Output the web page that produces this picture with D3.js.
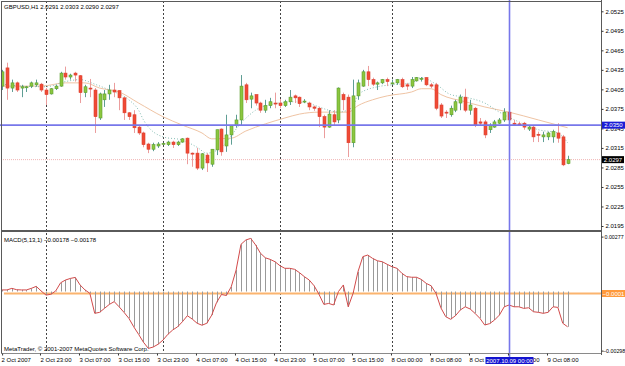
<!DOCTYPE html>
<html>
<head>
<meta charset="utf-8">
<script src="https://cdn.jsdelivr.net/npm/d3@7"></script>
<style>
body { margin: 0; background: #fff; }
svg { display: block; font-family: "Liberation Sans", Arial, sans-serif; font-size: 6px; }
</style>
</head>
<body>
<svg id="chart" width="625" height="366"></svg>
<script>
'use strict';

// GBPUSD H1 candles, 2 Oct 2007 14:00 .. 9 Oct 2007
var opens = [2.0410,2.0438,2.0407,2.0415,2.0407,2.0409,2.0410,2.0412,2.0413,2.0404,
	2.0398,2.0406,2.0410,2.0430,2.0424,2.0430,2.0426,2.0400,2.0407,2.0404,
	2.0361,2.0389,2.0398,2.0404,2.0403,2.0392,2.0369,2.0366,2.0347,2.0338,
	2.0321,2.0313,2.0318,2.0321,2.0320,2.0324,2.0320,2.0324,2.0330,2.0307,
	2.0307,2.0284,2.0304,2.0290,2.0312,2.0344,2.0318,2.0335,2.0350,2.0358,
	2.0412,2.0390,2.0397,2.0384,2.0373,2.0380,2.0384,2.0384,2.0380,2.0386,
	2.0395,2.0393,2.0387,2.0384,2.0378,2.0376,2.0363,2.0347,2.0366,2.0358,
	2.0397,2.0393,2.0323,2.0395,2.0410,2.0432,2.0420,2.0413,2.0415,2.0420,
	2.0414,2.0415,2.0420,2.0412,2.0410,2.0418,2.0421,2.0423,2.0412,2.0412,
	2.0381,2.0370,2.0366,2.0373,2.0384,2.0393,2.0373,2.0376,2.0355,2.0355,
	2.0343,2.0347,2.0353,2.0358,2.0370,2.0353,2.0352,2.0353,2.0344,2.0347,
	2.0336,2.0332,2.0332,2.0332,2.0338,2.0332,2.0291];
var highs = [2.0435,2.0446,2.0420,2.0417,2.0412,2.0410,2.0417,2.0420,2.0415,2.0407,
	2.0407,2.0412,2.0432,2.0440,2.0429,2.0432,2.0427,2.0412,2.0421,2.0407,
	2.0400,2.0404,2.0412,2.0415,2.0404,2.0393,2.0370,2.0373,2.0350,2.0340,
	2.0323,2.0323,2.0324,2.0323,2.0326,2.0326,2.0326,2.0330,2.0331,2.0308,
	2.0315,2.0307,2.0307,2.0313,2.0343,2.0345,2.0366,2.0350,2.0366,2.0427,
	2.0415,2.0400,2.0397,2.0386,2.0389,2.0392,2.0400,2.0390,2.0389,2.0404,
	2.0397,2.0394,2.0390,2.0386,2.0380,2.0378,2.0366,2.0373,2.0373,2.0408,
	2.0400,2.0397,2.0420,2.0420,2.0435,2.0441,2.0423,2.0417,2.0421,2.0423,
	2.0420,2.0421,2.0423,2.0415,2.0424,2.0424,2.0424,2.0424,2.0415,2.0415,
	2.0384,2.0373,2.0380,2.0389,2.0397,2.0406,2.0389,2.0378,2.0361,2.0358,
	2.0353,2.0358,2.0361,2.0376,2.0373,2.0358,2.0355,2.0355,2.0350,2.0350,
	2.0340,2.0340,2.0340,2.0343,2.0353,2.0335,2.0303];
var lows = [2.0404,2.0389,2.0401,2.0401,2.0393,2.0401,2.0407,2.0409,2.0401,2.0381,
	2.0397,2.0404,2.0409,2.0420,2.0420,2.0417,2.0384,2.0393,2.0393,2.0338,
	2.0358,2.0378,2.0389,2.0393,2.0373,2.0358,2.0358,2.0338,2.0335,2.0316,
	2.0307,2.0310,2.0315,2.0320,2.0318,2.0315,2.0318,2.0323,2.0290,2.0286,
	2.0281,2.0281,2.0278,2.0286,2.0304,2.0303,2.0309,2.0320,2.0346,2.0350,
	2.0384,2.0376,2.0380,2.0369,2.0369,2.0376,2.0376,2.0376,2.0378,2.0381,
	2.0384,2.0378,2.0384,2.0373,2.0372,2.0347,2.0330,2.0346,2.0350,2.0353,
	2.0373,2.0301,2.0316,2.0389,2.0409,2.0410,2.0410,2.0404,2.0413,2.0410,
	2.0412,2.0412,2.0407,2.0404,2.0407,2.0417,2.0417,2.0410,2.0407,2.0373,
	2.0361,2.0361,2.0363,2.0370,2.0373,2.0370,2.0366,2.0347,2.0349,2.0330,
	2.0338,2.0346,2.0352,2.0355,2.0349,2.0349,2.0349,2.0343,2.0341,2.0324,
	2.0324,2.0324,2.0327,2.0323,2.0323,2.0287,2.0290];
var closes = [2.0432,2.0407,2.0415,2.0404,2.0409,2.0409,2.0415,2.0415,2.0404,2.0397,
	2.0406,2.0410,2.0430,2.0424,2.0427,2.0427,2.0400,2.0409,2.0406,2.0363,
	2.0398,2.0398,2.0404,2.0401,2.0392,2.0369,2.0363,2.0346,2.0338,2.0320,
	2.0313,2.0320,2.0321,2.0322,2.0324,2.0320,2.0324,2.0329,2.0307,2.0306,
	2.0284,2.0306,2.0292,2.0313,2.0343,2.0309,2.0335,2.0349,2.0358,2.0410,
	2.0389,2.0395,2.0384,2.0373,2.0380,2.0386,2.0383,2.0380,2.0386,2.0393,
	2.0392,2.0383,2.0387,2.0378,2.0376,2.0363,2.0347,2.0367,2.0355,2.0407,
	2.0389,2.0323,2.0395,2.0415,2.0432,2.0420,2.0413,2.0415,2.0420,2.0417,
	2.0415,2.0420,2.0409,2.0410,2.0420,2.0423,2.0422,2.0412,2.0410,2.0376,
	2.0364,2.0369,2.0376,2.0386,2.0393,2.0373,2.0381,2.0350,2.0353,2.0335,
	2.0350,2.0355,2.0358,2.0370,2.0358,2.0352,2.0350,2.0347,2.0347,2.0332,
	2.0335,2.0335,2.0338,2.0340,2.0330,2.0289,2.0297];

// moving averages: [bar index, price]
var fastMa = [[0,2.0413],[4,2.0410],[9,2.0409],[13,2.0417],[16,2.0420],[19,2.0413],
	[22,2.0404],[26,2.0389],[28,2.0373],[29,2.0358],[33,2.0332],[37,2.0327],[40,2.0316],
	[42,2.0307],[45,2.0316],[49,2.0353],[52,2.0373],[56,2.0383],[60,2.0386],[63,2.0383],
	[67,2.0373],[69,2.0370],[72,2.0378],[73,2.0397],[77,2.0409],[80,2.0412],[84,2.0415],
	[86,2.0423],[89,2.0413],[92,2.0397],[95,2.0393],[99,2.0384],[102,2.0370],[106,2.0355],
	[110,2.0343],[114,2.0338],[116,2.0323]];
var slowMa = [[0,2.0410],[8,2.0410],[13,2.0415],[17,2.0415],[20,2.0407],[24,2.0401],
	[28,2.0384],[33,2.0363],[37,2.0350],[41,2.0338],[43,2.0329],[47,2.0330],[50,2.0341],
	[54,2.0352],[58,2.0361],[61,2.0367],[65,2.0370],[71,2.0370],[73,2.0380],[76,2.0389],
	[79,2.0395],[84,2.0401],[86,2.0406],[88,2.0406],[90,2.0397],[95,2.0386],[99,2.0378],
	[104,2.0370],[110,2.0358],[114,2.0350],[116,2.0346]];

// MACD(5,13,1) main = signal
var macdValues = [0.00008,0.00008,0.00016,0.00009,0.00008,0.00008,0.00016,0.00026,0.00003,-0.00018,
	-0.00014,0.00003,0.00044,0.00058,0.00066,0.00071,0.00033,0.00008,-0.00009,-0.0011,
	-0.00105,-0.00085,-0.00065,-0.00051,-0.00077,-0.00105,-0.00135,-0.00178,-0.00216,-0.00256,
	-0.00287,-0.0028,-0.00266,-0.00245,-0.00216,-0.00194,-0.00178,-0.00152,-0.00122,-0.00139,
	-0.0016,-0.0017,-0.0016,-0.00119,-0.00055,-0.00015,-0.0002,0.00024,0.00108,0.00238,
	0.0026,0.00268,0.00235,0.00193,0.0017,0.00162,0.0015,0.0013,0.00117,0.00117,
	0.00112,0.00095,0.00075,0.00058,0.00029,-0.00014,-0.00065,-0.0006,-0.00068,0,
	0.00033,-0.00077,-0.00009,0.001,0.00176,0.00184,0.00167,0.00155,0.0015,0.00137,
	0.00125,0.00117,0.00092,0.00075,0.00072,0.00072,0.00061,0.00041,0.00029,-0.00009,
	-0.00082,-0.00127,-0.0014,-0.00122,-0.00093,-0.00077,-0.00088,-0.0011,-0.00135,-0.00169,
	-0.00162,-0.00144,-0.00119,-0.00077,-0.00068,-0.00077,-0.00077,-0.00085,-0.00082,-0.00102,
	-0.00105,-0.0011,-0.00105,-0.00077,-0.0008,-0.0016,-0.00178];

var priceTicks = [2.0525,2.0495,2.0465,2.0435,2.0405,2.0375,2.0345,2.0315,2.0285,2.0255,2.0225,2.0195];
var macdTicks = [0.00277,-0.00298];
var timeLabelBars = [0,9,17,25,33,41,49,57,65,73,81,89,97,105,113];
var timeLabels = ['2 Oct 2007','2 Oct 23:00','3 Oct 07:00','3 Oct 15:00','3 Oct 23:00',
	'4 Oct 07:00','4 Oct 15:00','4 Oct 23:00','5 Oct 07:00','5 Oct 15:00','8 Oct 00:00',
	'8 Oct 08:00','8 Oct 16:00','9 Oct 00:00','9 Oct 08:00'];
var gridBars = [9,33,57,80,104];

var lastPrice = 2.0297;
var crossPrice = 2.0350;
var crossBar = 104;
var crossTime = '2007.10.09 00:00';
var macdLevel = -0.0001;

/**
 * Draw everything
 */
function drawChart() {
	var svg = d3.select('#chart');
	var right = 601, mainTop = 1, mainBottom = 230, macdTop = 232, bottom = 353;

	var x = d3.scaleLinear().domain([0, opens.length - 1]).range([2.1, 2.1 + (opens.length - 1) * 4.875]);
	var y = d3.scaleLinear().domain([2.0195, 2.0525]).range([226, 11.3]);
	var ym = d3.scaleLinear().domain([-0.00298, 0.00277]).range([350.6, 236.6]);

	svg.append('rect').attr('width', 625).attr('height', 366).attr('fill', '#fff');

	var defs = svg.append('defs');
	defs.append('clipPath').attr('id', 'clipMain').append('rect')
		.attr('x', 1).attr('y', mainTop).attr('width', right - 1).attr('height', mainBottom - mainTop);
	defs.append('clipPath').attr('id', 'clipMacd').append('rect')
		.attr('x', 1).attr('y', macdTop).attr('width', right - 1).attr('height', bottom - macdTop);

	// vertical grid
	svg.append('g').selectAll('line').data(gridBars).enter().append('line')
		.attr('x1', function (d) { return Math.round(x(d)) + 0.5; })
		.attr('x2', function (d) { return Math.round(x(d)) + 0.5; })
		.attr('y1', mainTop).attr('y2', bottom)
		.attr('stroke', '#444').attr('stroke-dasharray', '2,2');

	var main = svg.append('g').attr('clip-path', 'url(#clipMain)');

	// last price line
	main.append('line')
		.attr('x1', 1).attr('x2', right).attr('y1', y(lastPrice)).attr('y2', y(lastPrice))
		.attr('stroke', '#f0b4b4').attr('stroke-dasharray', '1,1');

	var maLine = d3.line()
		.x(function (d) { return x(d[0]); })
		.y(function (d) { return y(d[1]); })
		.curve(d3.curveMonotoneX);
	main.append('path').attr('d', maLine(slowMa))
		.attr('fill', 'none').attr('stroke', '#efc4a4').attr('stroke-width', 1);
	main.append('path').attr('d', maLine(fastMa))
		.attr('fill', 'none').attr('stroke', '#86bdb3').attr('stroke-width', 1)
		.attr('stroke-dasharray', '1,2');

	var bars = d3.range(opens.length).map(function (i) {
		return { i: i, o: opens[i], h: highs[i], l: lows[i], c: closes[i], up: closes[i] >= opens[i] };
	});

	// wicks
	main.append('g').selectAll('line').data(bars).enter().append('line')
		.attr('x1', function (d) { return Math.round(x(d.i)) + 0.5; })
		.attr('x2', function (d) { return Math.round(x(d.i)) + 0.5; })
		.attr('y1', function (d) { return y(d.h); })
		.attr('y2', function (d) { return y(d.l); })
		.attr('stroke', function (d) { return d.up ? '#5f9e94' : '#eb9d9d'; });

	// bodies
	main.append('g').selectAll('rect').data(bars).enter().append('rect')
		.attr('x', function (d) { return Math.round(x(d.i)) - 1; })
		.attr('width', 3)
		.attr('y', function (d) { return y(Math.max(d.o, d.c)); })
		.attr('height', function (d) { return Math.max(1, Math.abs(y(d.o) - y(d.c))); })
		.attr('fill', function (d) { return d.up ? '#8cc63f' : '#ef4a36'; })
		.attr('stroke', function (d) { return d.up ? '#5c9e2e' : '#dc3f2d'; })
		.attr('stroke-width', 0.6);

	// MACD panel
	var macd = svg.append('g').attr('clip-path', 'url(#clipMacd)');
	macd.append('line')
		.attr('x1', 4).attr('x2', right).attr('y1', ym(macdLevel)).attr('y2', ym(macdLevel))
		.attr('stroke', '#fbb46e').attr('stroke-width', 2);
	macd.append('g').selectAll('line').data(macdValues).enter().append('line')
		.attr('x1', function (d, i) { return Math.round(x(i)) + 0.5; })
		.attr('x2', function (d, i) { return Math.round(x(i)) + 0.5; })
		.attr('y1', ym(0))
		.attr('y2', function (d) { return ym(d); })
		.attr('stroke', '#9a9a9a');
	macd.append('path')
		.attr('d', d3.line()
			.x(function (d, i) { return x(i); })
			.y(function (d) { return ym(d); })(macdValues))
		.attr('fill', 'none').attr('stroke', '#d24a4a').attr('stroke-width', 1);

	// crosshair
	var cx = Math.round(x(crossBar)) + 0.5;
	svg.append('line').attr('x1', 0).attr('x2', right).attr('y1', y(crossPrice)).attr('y2', y(crossPrice))
		.attr('stroke', '#7777ea').attr('stroke-width', 1.6);
	svg.append('line').attr('x1', cx).attr('x2', cx).attr('y1', 0).attr('y2', 357)
		.attr('stroke', '#7777ea').attr('stroke-width', 1.6);

	// frame
	var frame = svg.append('g').attr('stroke', '#5a5a5a').attr('fill', 'none');
	frame.append('line').attr('x1', 1).attr('x2', right).attr('y1', 1.5).attr('y2', 1.5);
	frame.append('line').attr('x1', 1.5).attr('x2', 1.5).attr('y1', 1).attr('y2', bottom);
	frame.append('line').attr('x1', right + 0.5).attr('x2', right + 0.5).attr('y1', 0).attr('y2', bottom + 2);
	frame.append('line').attr('x1', 1).attr('x2', right).attr('y1', 231).attr('y2', 231).attr('stroke-width', 2);
	frame.append('line').attr('x1', 1).attr('x2', right).attr('y1', bottom + 0.5).attr('y2', bottom + 0.5)
		.attr('stroke', '#8a8a8a');

	// price axis
	var priceAxis = svg.append('g').attr('transform', 'translate(' + (right + 0.5) + ',0)')
		.call(d3.axisRight(y).tickValues(priceTicks).tickFormat(d3.format('.4f')).tickSize(2).tickPadding(2));
	var macdAxis = svg.append('g').attr('transform', 'translate(' + (right + 0.5) + ',0)')
		.call(d3.axisRight(ym).tickValues(macdTicks).tickFormat(d3.format('.5f')).tickSize(2).tickPadding(2));
	[priceAxis, macdAxis].forEach(function (g) {
		g.select('.domain').remove();
		g.attr('font-size', 6).attr('font-family', null);
		g.selectAll('line').attr('stroke', '#333');
		g.selectAll('text').attr('fill', '#000');
	});
	macdAxis.attr('font-size', 5.3);
	macdAxis.selectAll('text').attr('x', function (d) { return d < 0 ? 1.5 : 3; });

	// time axis
	var timeAxis = svg.append('g').attr('transform', 'translate(0,' + (bottom + 0.5) + ')')
		.call(d3.axisBottom(x).tickValues(timeLabelBars)
			.tickFormat(function (d, i) { return timeLabels[i]; }).tickSize(2));
	timeAxis.select('.domain').remove();
	timeAxis.attr('font-size', 6).attr('font-family', null);
	timeAxis.selectAll('.tick line').attr('stroke', '#333')
		.attr('transform', function (d) { return 'translate(' + (d === 0 ? 0 : -6) + ',0)'; });
	timeAxis.selectAll('.tick text')
		.attr('text-anchor', 'start').attr('fill', '#000').attr('y', 4)
		.attr('x', function (d) { return d === 0 ? -1 : -6; });

	// highlighted values
	function tag(px, py, w, text, bg) {
		svg.append('rect').attr('x', px).attr('y', py - 3.5).attr('width', w).attr('height', 7).attr('fill', bg);
		svg.append('text').attr('x', px + w / 2).attr('y', py + 2.2).attr('text-anchor', 'middle')
			.attr('fill', '#fff').text(text);
	}
	tag(602, y(crossPrice), 23, d3.format('.4f')(crossPrice), '#1c1cd6');
	tag(602, y(lastPrice), 22, d3.format('.4f')(lastPrice), '#000');
	tag(602, ym(macdLevel), 23, d3.format('.4f')(macdLevel), '#ff9a3c');
	tag(cx - 24, 360.5, 48, crossTime, '#1414d0');

	// captions
	var last = opens.length - 1;
	svg.append('text').attr('x', 4).attr('y', 8.5)
		.text('GBPUSD,H1  ' + [opens[last], highs[last], lows[last], closes[last]].map(d3.format('.4f')).join(' '));
	svg.append('text').attr('x', 4).attr('y', 242)
		.text('MACD(5,13,1) ' + d3.format('.5f')(macdValues[last]) + ' ' + d3.format('.5f')(macdValues[last]));
	svg.append('text').attr('x', 4).attr('y', 351)
		.text('MetaTrader, \u00a9 2001-2007 MetaQuotes Software Corp.');
}

drawChart();
</script>
</body>
</html>
